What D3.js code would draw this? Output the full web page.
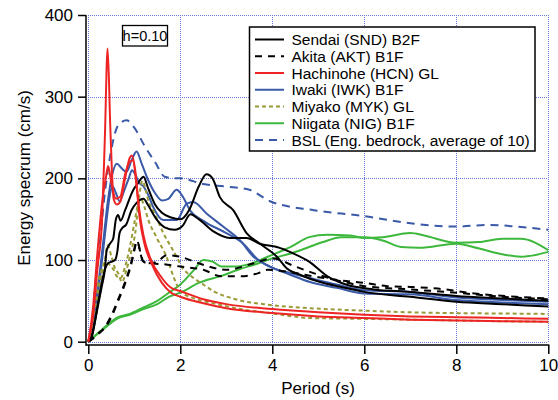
<!DOCTYPE html>
<html><head><meta charset="utf-8">
<script src="https://cdn.jsdelivr.net/npm/d3@7"></script>
<style>
html,body{margin:0;padding:0;background:#fff;}
svg text{font-family:"Liberation Sans",Arial,sans-serif;fill:#000;}
</style></head>
<body><svg id="c" width="558" height="400"></svg>
<script>
// ---- data (period [s], energy spectrum [cm/s]) ----
const xTicks = [0, 2, 4, 6, 8, 10];
const yTicks = [0, 100, 200, 300, 400];
const legendLabels = ["Sendai (SND) B2F","Akita (AKT) B1F","Hachinohe (HCN) GL","Iwaki (IWK) B1F","Miyako (MYK) GL","Niigata (NIG) B1F","BSL (Eng. bedrock, average of 10)"];

const sendaiA = [[0,0],[0.07,6],[0.18,35],[0.29,67],[0.36,88],[0.4,112],[0.47,120],[0.54,126],[0.6,150],[0.65,155],[0.7,148],[0.8,161],[0.98,186],[1.08,194],[1.2,202],[1.3,188],[1.45,168],[1.6,158],[1.8,152],[2.0,150],[2.2,162],[2.4,190],[2.57,205],[2.7,200],[2.86,177],[3.15,161],[3.44,133],[3.73,120],[4.1,104],[4.31,90],[4.6,82],[5.04,73],[5.5,67],[6,61],[7,55],[8,49],[9,46],[10,43]];
const sendaiB = [[0,0],[0.07,5],[0.22,50],[0.33,82],[0.43,96],[0.51,98],[0.58,100],[0.63,110],[0.68,133],[0.75,140],[0.82,143],[0.94,161],[1.05,170],[1.2,175],[1.3,167],[1.48,150],[1.66,140],[1.88,137],[2.05,142],[2.22,156],[2.4,150],[2.72,135],[3.08,127],[3.44,127],[3.73,120],[4.1,116],[4.46,108],[4.8,98],[5.2,80],[5.6,70],[6.2,64],[7,61],[8,56],[9,53],[10,50]];
const akitaA = [[0,0],[0.1,4],[0.2,9],[0.36,18],[0.51,33],[0.65,52],[0.76,67],[0.83,78],[0.91,92],[0.98,108],[1.03,120],[1.06,124],[1.12,112],[1.18,99],[1.3,96],[1.5,98],[1.7,106],[2.0,104],[2.4,96],[3.0,88],[3.6,96],[4.0,102],[4.5,92],[5.0,82],[5.5,74],[6,68],[7,64],[8,60],[9,55],[10,52]];
const akitaB = [[0,0],[0.1,4],[0.2,9],[0.36,17],[0.51,31],[0.65,50],[0.76,65],[0.83,76],[0.91,90],[0.98,106],[1.03,119],[1.07,122],[1.13,110],[1.2,98],[1.3,96],[1.6,95],[2.0,92],[2.5,88],[2.9,80],[3.3,80],[3.7,84],[3.9,88],[4.4,85],[5,79],[5.5,75],[6,72],[6.5,68],[7,67],[7.6,65],[8.4,59],[9.3,55],[10,53]];
const hachinoheA = [[0,0],[0.1,30],[0.2,90],[0.3,150],[0.36,250],[0.42,359],[0.48,260],[0.55,175],[0.62,168],[0.7,172],[0.8,200],[0.9,225],[0.95,228],[1.02,210],[1.1,165],[1.2,130],[1.35,102],[1.6,78],[1.8,66],[2.0,62],[2.5,52],[3,46],[4,40],[5,36],[6,33],[7,31],[8,30],[9,29],[10,28]];
const hachinoheB = [[0,0],[0.1,40],[0.2,110],[0.3,170],[0.38,200],[0.43,215],[0.5,195],[0.6,175],[0.7,178],[0.8,205],[0.9,220],[0.97,222],[1.05,190],[1.12,150],[1.22,120],[1.38,95],[1.6,72],[1.8,60],[2.0,55],[2.5,47],[3,41],[4,35],[5,31],[6,29],[7,27],[8,26],[9,25],[10,24.5]];
const iwakiA = [[0,0],[0.1,26],[0.21,67],[0.32,120],[0.42,170],[0.51,202],[0.62,218],[0.73,212],[0.83,208],[0.94,222],[1.05,233],[1.16,218],[1.3,198],[1.45,182],[1.6,173],[1.74,175],[1.92,186],[2.05,178],[2.21,161],[2.5,148],[3.0,133],[3.37,120],[3.66,102],[4.02,90],[4.4,84],[4.82,78],[5.4,70],[6,63],[7,61],[8,54],[9,51],[10,49]];
const iwakiB = [[0,0],[0.1,20],[0.2,55],[0.3,100],[0.4,150],[0.47,180],[0.53,190],[0.6,182],[0.68,172],[0.78,185],[0.88,200],[0.95,210],[1.02,205],[1.1,195],[1.2,190],[1.3,180],[1.41,165],[1.63,149],[1.92,149],[2.14,169],[2.28,171],[2.57,157],[2.93,141],[3.3,124],[3.59,104],[3.95,92],[4.39,82],[4.82,73],[5.4,66],[6,59],[7,58],[8,51],[9,48],[10,46]];
const miyakoA = [[0,0],[0.1,30],[0.22,75],[0.29,88],[0.36,100],[0.42,118],[0.5,105],[0.58,90],[0.65,84],[0.73,73],[0.83,88],[0.94,112],[1.02,133],[1.1,175],[1.18,197],[1.25,185],[1.32,170],[1.41,161],[1.52,147],[1.63,133],[1.78,118],[1.92,104],[2.05,90],[2.2,82],[2.5,70],[2.72,62],[3.2,52],[3.95,45],[4.83,41],[6,38],[7,36],[8,35],[9,34.5],[10,34]];
const miyakoB = [[0,0],[0.1,25],[0.2,55],[0.3,85],[0.38,98],[0.45,95],[0.55,88],[0.62,80],[0.7,78],[0.8,92],[0.9,115],[1.0,145],[1.08,168],[1.14,175],[1.22,165],[1.3,150],[1.48,128],[1.7,104],[1.85,80],[2.0,62],[2.3,53],[2.72,47],[3.2,41],[3.95,35],[4.83,29],[6,28],[7,27],[8,26],[9,25],[10,24.5]];
const niigataA = [[0,0],[0.3,15],[0.65,30],[0.9,34],[1.2,42],[1.5,50],[1.75,60],[2.0,70],[2.3,88],[2.5,100],[2.7,98],[2.9,92],[3.2,92],[3.5,95],[3.9,104],[4.4,116],[4.8,128],[5.2,131],[5.7,130],[6.0,127],[6.4,128],[7.0,133],[7.3,130],[8.0,121],[8.5,122],[9.0,126],[9.4,126],[10,112]];
const niigataB = [[0,0],[0.3,14],[0.65,29],[0.9,33],[1.2,40],[1.5,46],[1.75,55],[2.0,60],[2.4,72],[2.86,80],[3.3,89],[3.7,96],[4.0,102],[4.4,108],[4.8,116],[5.1,122],[5.5,128],[6.0,128],[6.4,124],[6.8,116],[7.2,115],[8.0,120],[8.5,114],[9.0,107],[9.4,104],[10,110]];
const bsl = [[0,0],[0.05,10],[0.15,70],[0.25,121],[0.36,182],[0.5,235],[0.65,265],[0.83,271],[1.0,262],[1.23,239],[1.45,220],[1.66,202],[1.88,200],[2.0,200],[2.5,193],[3.0,190],[3.5,186],[3.95,172],[4.9,161],[5.97,154],[7.0,145],[8.0,141],[8.7,143],[9.3,141],[10,137]];

// ---- styles ----
const BLACK="#000000", RED="#ee2424", BLUE="#3a5aa8", OLIVE="#9a9a38", GREEN="#3db83d";
const series = [
  {d:bsl, c:BLUE, dash:"8,6", leg:6},
  {d:niigataA, c:GREEN, dash:null, leg:5},
  {d:niigataB, c:GREEN, dash:null},
  {d:iwakiA, c:BLUE, dash:null, leg:3},
  {d:iwakiB, c:BLUE, dash:null},
  {d:miyakoA, c:OLIVE, dash:"4,3", leg:4},
  {d:miyakoB, c:OLIVE, dash:"4,3"},
  {d:akitaA, c:BLACK, dash:"7,6", leg:1},
  {d:akitaB, c:BLACK, dash:"7,6"},
  {d:sendaiA, c:BLACK, dash:null, leg:0},
  {d:sendaiB, c:BLACK, dash:null},
  {d:hachinoheA, c:RED, dash:null, leg:2},
  {d:hachinoheB, c:RED, dash:null}
];

const svg = d3.select("#c");
const L=88.3, R=548.3, T=15, B=341.7;
const x = d3.scaleLinear().domain([0,10]).range([L,R]);
const y = d3.scaleLinear().domain([0,400]).range([B,T]);

// grid (fine dotted)
const grid = svg.append("g").attr("stroke","#6a78d8").attr("stroke-width",1)
  .attr("stroke-dasharray","1,1").attr("shape-rendering","crispEdges");
xTicks.forEach(v=>grid.append("line").attr("x1",Math.round(x(v))+0.5).attr("x2",Math.round(x(v))+0.5).attr("y1",T).attr("y2",B));
yTicks.forEach(v=>grid.append("line").attr("y1",Math.round(y(v))+0.5).attr("y2",Math.round(y(v))+0.5).attr("x1",L).attr("x2",R));

// axes
const yAx = svg.append("g").attr("transform","translate(86,0)")
  .call(d3.axisLeft(y).tickValues(yTicks).tickSize(8).tickPadding(5).tickSizeOuter(0));
const xAx = svg.append("g").attr("transform","translate(0,345)")
  .call(d3.axisBottom(x).tickValues(xTicks).tickSize(9).tickPadding(5).tickSizeOuter(0));
[yAx,xAx].forEach(a=>{
  a.select(".domain").remove();
  a.selectAll("line").attr("stroke","#000").attr("stroke-width",1.5);
  a.selectAll("text").style("font-size","17px").style("font-family","'Liberation Sans',Arial,sans-serif").attr("fill","#000");
});
svg.append("line").attr("x1",86).attr("x2",86).attr("y1",T).attr("y2",345.75).attr("stroke","#000").attr("stroke-width",1.5);
svg.append("line").attr("x1",86).attr("x2",R+1).attr("y1",345).attr("y2",345).attr("stroke","#000").attr("stroke-width",1.5);

svg.append("text").attr("x",318).attr("y",394).attr("text-anchor","middle").style("font-size","17px").text("Period (s)");
svg.append("text").attr("transform","translate(30,178) rotate(-90)").attr("text-anchor","middle").style("font-size","17px").text("Energy specrum (cm/s)");

// lines
const line = d3.line().x(p=>x(p[0])).y(p=>y(p[1])).curve(d3.curveMonotoneX);
svg.append("clipPath").attr("id","clip").append("rect").attr("x",L-2).attr("y",T-2).attr("width",R-L+4).attr("height",B-T+6);
const lg = svg.append("g").attr("clip-path","url(#clip)");
series.forEach(s=>{
  lg.append("path").attr("d",line(s.d)).attr("fill","none").attr("stroke",s.c)
    .attr("stroke-width",2).attr("stroke-linejoin","round")
    .attr("stroke-dasharray",s.dash);
});

// h box
svg.append("rect").attr("x",122.5).attr("y",25.5).attr("width",45).attr("height",20.5).attr("fill","#fff").attr("stroke","#000").attr("stroke-width",1.3);
svg.append("text").attr("x",145).attr("y",36).attr("text-anchor","middle").attr("dominant-baseline","central").style("font-size","14.5px").text("h=0.10");

// legend
const leg = svg.append("g");
leg.append("rect").attr("x",249.5).attr("y",27).attr("width",285.5).attr("height",124).attr("fill","#fff").attr("stroke","#000").attr("stroke-width",1.5);
const legItems = series.filter(s=>s.leg!==undefined).sort((a,b)=>a.leg-b.leg);
legItems.forEach((s,i)=>{
  const cy = 39.5 + i*16.75;
  leg.append("line").attr("x1",255).attr("x2",284).attr("y1",cy).attr("y2",cy).attr("stroke",s.c).attr("stroke-width",2).attr("stroke-dasharray",s.dash);
  leg.append("text").attr("x",291.5).attr("y",cy).attr("dominant-baseline","central").style("font-size","15.5px").text(legendLabels[s.leg]);
});
</script></body></html>
